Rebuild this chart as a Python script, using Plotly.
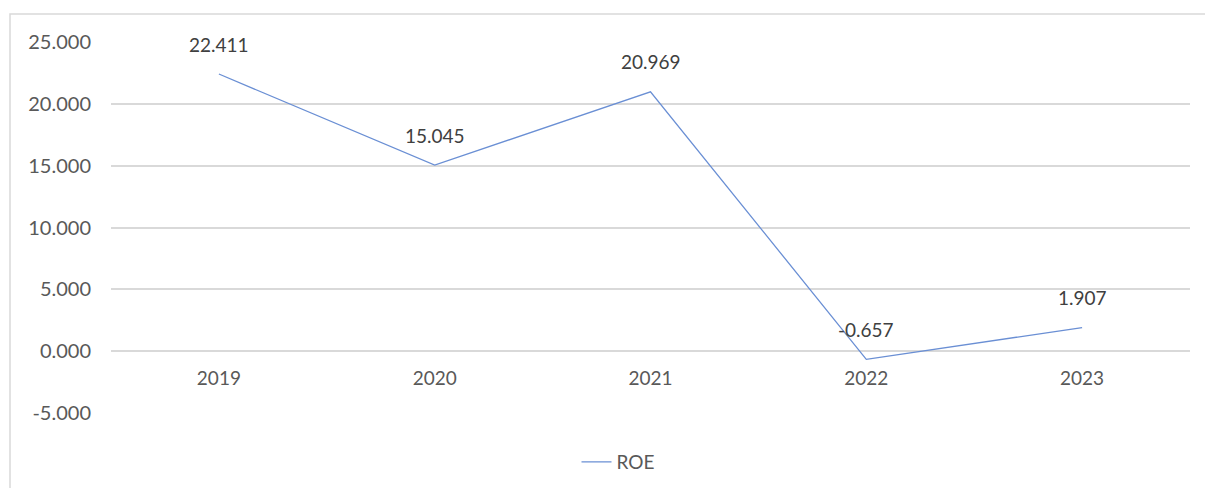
import plotly.graph_objects as go

years = ["2019", "2020", "2021", "2022", "2023"]
roe = [22.411, 15.045, 20.969, -0.657, 1.907]
y_ticks = [-5, 0, 5, 10, 15, 20, 25]
y_tick_text = [f"{v:.3f}" for v in y_ticks]

W, H = 1205, 488
L, R, T, B = 111, 15, 42, 75
ymin, ymax = -5, 25
plot_h = H - T - B
plot_w = W - L - R

font_family = "Lato, 'Open Sans', sans-serif"
tick_color = "#595959"
grid_color = "#d9d9d9"
line_color = "#6a8fd4"

fig = go.Figure()
fig.add_trace(go.Scatter(
    x=years, y=roe, mode="lines", name="ROE",
    line=dict(color=line_color, width=1.3),
))

for i, yv in enumerate(roe):
    fig.add_annotation(x=i, y=yv, text=f"{yv:.3f}", showarrow=False,
                       yshift=30, font=dict(family=font_family, size=19, color="#404040"))

zero_pos = (0 - ymin) / (ymax - ymin)

fig.update_layout(
    width=W, height=H,
    margin=dict(l=L, r=R, t=T, b=B, autoexpand=False),
    paper_bgcolor="white", plot_bgcolor="white",
    showlegend=True,
    legend=dict(orientation="h", x=(618 - L) / plot_w, xanchor="center",
                yref="container", y=1 - 462 / H, yanchor="middle",
                font=dict(family=font_family, size=19, color=tick_color)),
    xaxis=dict(type="category", range=[-0.5, len(years) - 0.5],
               anchor="free", position=zero_pos,
               showline=False, showgrid=False, zeroline=False,
               ticks="", tickfont=dict(family=font_family, size=19, color=tick_color),
               ticklabelstandoff=14),
    yaxis=dict(range=[ymin, ymax], tickvals=y_ticks, ticktext=y_tick_text,
               showgrid=True, gridcolor=grid_color, gridwidth=1.5,
               zeroline=False, showline=False, ticks="",
               tickfont=dict(family=font_family, size=20, color=tick_color),
               ticklabelstandoff=19),
)

# chart border (outer frame)
fig.add_shape(type="rect", xref="paper", yref="paper",
              x0=(10 - L) / plot_w, x1=(W + 30 - L) / plot_w,
              y0=(H - B - (H + 30)) / plot_h, y1=(H - B - 14) / plot_h,
              line=dict(color="#d9d9d9", width=1.5), layer="below")

fig.write_html("out.html")
